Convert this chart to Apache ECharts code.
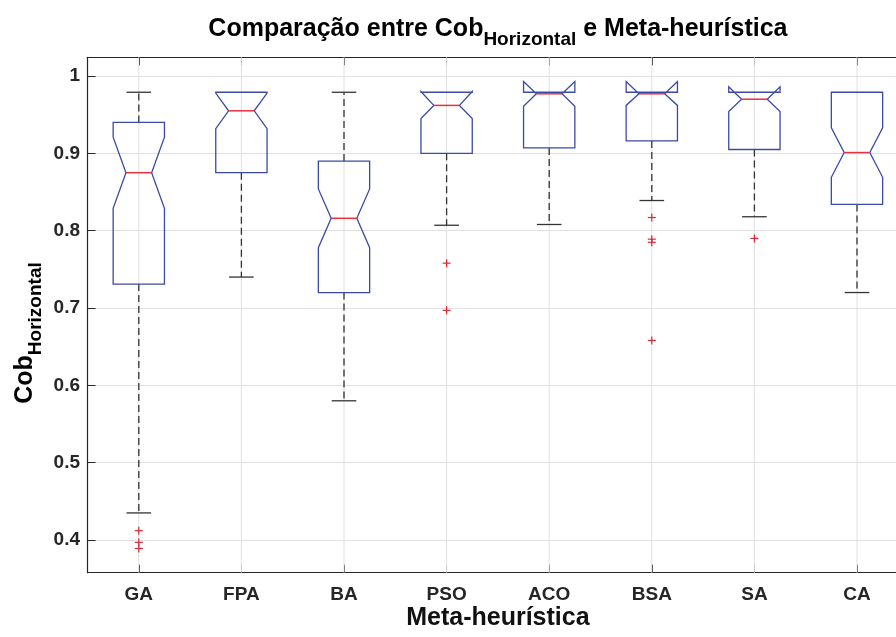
<!DOCTYPE html>
<html><head><meta charset="utf-8">
<script src="https://cdn.jsdelivr.net/npm/echarts@6/dist/echarts.min.js"></script>
<style>html,body{margin:0;padding:0;background:#fff;overflow:hidden;width:896px;height:637px}#c{width:912px;height:637px}</style>
</head><body><div id="c"></div>
<script>
// ---- data ----
const categories = ['GA', 'FPA', 'BA', 'PSO', 'ACO', 'BSA', 'SA', 'CA'];
const lowerWhisker = [0.435, 0.740, 0.580, 0.807, 0.808, 0.839, 0.818, 0.720];
const q1Values     = [0.731, 0.875, 0.720, 0.900, 0.907, 0.916, 0.905, 0.834];
const medianValues = [0.875, 0.955, 0.816, 0.962, 0.977, 0.977, 0.970, 0.901];
const q3Values     = [0.940, 0.979, 0.890, 0.979, 0.979, 0.979, 0.979, 0.979];
const upperWhisker = [0.979, 0.979, 0.979, 0.979, 0.979, 0.979, 0.979, 0.979];
const notchLow     = [0.829, 0.932, 0.778, 0.945, 0.961, 0.962, 0.954, 0.869];
const notchHigh    = [0.921, 0.978, 0.854, 0.980, 0.993, 0.993, 0.986, 0.933];
const outlierCategory = ['GA', 'GA', 'GA', 'PSO', 'PSO', 'BSA', 'BSA', 'BSA', 'BSA', 'SA'];
const outlierValue    = [0.412, 0.397, 0.389, 0.758, 0.697, 0.817, 0.789, 0.785, 0.658, 0.790];
const yMin = 0.3577, yMax = 1.0242;
const titleMain1 = 'Comparação entre Cob';
const titleSub = 'Horizontal';
const titleMain2 = ' e Meta-heurística';
const yNameMain = 'Cob';
const yNameSub = 'Horizontal';
const xName = 'Meta-heurística';

// ---- chart ----
const FONT = '"Liberation Sans", Arial, Helvetica, sans-serif';
const BOX = '#3b4aa6', MED = '#e8303c', WH = '#333333', OUT = '#e02535';
const GRID_C = '#e0e0e0', AX = '#262626';

const boxData = categories.map((c, i) => [i, lowerWhisker[i], q1Values[i], medianValues[i], q3Values[i], upperWhisker[i], notchLow[i], notchHigh[i]]);
const outData = outlierCategory.map((c, i) => [categories.indexOf(c), outlierValue[i]]);

const chart = echarts.init(document.getElementById('c'), null, {renderer: 'canvas'});

const gridLeft = 87.5, gridTop = 57.3, gridW = 820.8, gridH = 515.4;

function renderGrid(params, api) {
  const idx = api.value(0);
  const cs = params.coordSys;
  const x = api.coord([idx, yMin])[0];
  return {type: 'line', shape: {x1: x, y1: cs.y, x2: x, y2: cs.y + cs.height},
    style: {stroke: GRID_C, lineWidth: 1}, silent: true};
}

function renderBox(params, api) {
  const idx = api.value(0);
  const band = api.size([1, 0])[0];
  const cx = api.coord([idx, 0.5])[0];
  const y = v => api.coord([idx, v])[1];
  const vq3 = api.value(4), vuw = api.value(5), vq1 = api.value(2), vlw = api.value(1);
  const lw = y(vlw), q1 = y(vq1), md = y(api.value(3)),
        q3 = y(vq3), uw = y(vuw), nl = y(api.value(6)), nh = y(api.value(7));
  const half = band * 0.25, nw = band * 0.125, cap = band * 0.12;
  const dash = {stroke: WH, lineWidth: 1.3, lineDash: [7, 4]};
  const solid = {stroke: WH, lineWidth: 1.3};
  const children = [];
  if (vuw > vq3) {
    children.push({type: 'line', shape: {x1: cx, y1: q3, x2: cx, y2: uw}, style: dash});
    children.push({type: 'line', shape: {x1: cx - cap, y1: uw, x2: cx + cap, y2: uw}, style: solid});
  }
  if (vlw < vq1) {
    children.push({type: 'line', shape: {x1: cx, y1: q1, x2: cx, y2: lw}, style: dash});
    children.push({type: 'line', shape: {x1: cx - cap, y1: lw, x2: cx + cap, y2: lw}, style: solid});
  }
  children.push({type: 'polygon', shape: {points: [
      [cx - half, q1], [cx - half, nl], [cx - nw, md], [cx - half, nh], [cx - half, q3],
      [cx + half, q3], [cx + half, nh], [cx + nw, md], [cx + half, nl], [cx + half, q1]]},
      style: {fill: 'none', stroke: BOX, lineWidth: 1.3, lineJoin: 'miter'}});
  children.push({type: 'line', shape: {x1: cx - nw, y1: md, x2: cx + nw, y2: md}, style: {stroke: MED, lineWidth: 1.5}});
  return {type: 'group', children: children};
}

function renderOut(params, api) {
  const p = api.coord([api.value(0), api.value(1)]);
  const s = 4;
  const st = {stroke: OUT, lineWidth: 1.2};
  return {type: 'group', children: [
    {type: 'line', shape: {x1: p[0] - s, y1: p[1], x2: p[0] + s, y2: p[1]}, style: st},
    {type: 'line', shape: {x1: p[0], y1: p[1] - s, x2: p[0], y2: p[1] + s}, style: st}
  ]};
}

const labelStyle = {fontFamily: FONT, fontWeight: 'bold', fontSize: 19, color: AX};
const richMain = {fontFamily: FONT, fontWeight: 'bold', fontSize: 25, lineHeight: 32, verticalAlign: 'top', fill: '#000'};
const richSub = {fontFamily: FONT, fontWeight: 'bold', fontSize: 19, lineHeight: 16, verticalAlign: 'bottom', fill: '#000'};

chart.setOption({
  animation: false,
  backgroundColor: '#fff',
  grid: {left: gridLeft, top: gridTop, width: gridW, height: gridH, containLabel: false},
  xAxis: [{
    type: 'category', data: categories, position: 'bottom', boundaryGap: true,
    axisLine: {show: true, lineStyle: {color: AX, width: 1.2}},
    axisTick: {show: true, inside: true, alignWithLabel: true, length: 8, lineStyle: {color: AX, width: 1}},
    axisLabel: Object.assign({margin: 13}, labelStyle),
    splitLine: {show: false}
  }, {
    type: 'category', data: categories, position: 'top', boundaryGap: true,
    axisLine: {show: true, onZero: false, lineStyle: {color: AX, width: 1.2}},
    axisTick: {show: true, inside: true, alignWithLabel: true, length: 8, lineStyle: {color: AX, width: 1}},
    axisLabel: {show: false}, splitLine: {show: false}
  }],
  yAxis: {
    type: 'value', min: yMin, max: yMax,
    axisLine: {show: true, lineStyle: {color: AX, width: 1.2}},
    axisTick: {show: true, inside: true, length: 8, lineStyle: {color: AX, width: 1}},
    axisLabel: Object.assign({margin: 7.5, showMinLabel: false, showMaxLabel: false,
      formatter: v => (Math.abs(v * 10 - Math.round(v * 10)) < 1e-6 ? String(+(+v).toFixed(1)) : '')}, labelStyle),
    splitLine: {show: true, lineStyle: {color: GRID_C, width: 1}}
  },
  series: [
    {type: 'custom', name: 'grid', xAxisIndex: 0, renderItem: renderGrid, data: boxData, z: 1, silent: true},
    {type: 'custom', name: 'box', xAxisIndex: 0, renderItem: renderBox, data: boxData,
      encode: {x: 0, y: [1, 2, 3, 4, 5]}, z: 3},
    {type: 'custom', name: 'out', xAxisIndex: 0, renderItem: renderOut, data: outData, encode: {x: 0, y: 1}, z: 4}
  ],
  graphic: [
    {type: 'text', x: gridLeft + gridW / 2, y: 33, z: 10,
      style: {text: '{m|' + titleMain1 + '}{s|' + titleSub + '}{m|' + titleMain2 + '}',
        align: 'center', verticalAlign: 'middle', fill: '#000', rich: {m: richMain, s: richSub}}},
    {type: 'text', x: 29, y: 333, rotation: Math.PI / 2, z: 10,
      style: {text: '{m|' + yNameMain + '}{s|' + yNameSub + '}',
        align: 'center', verticalAlign: 'middle', fill: '#000', rich: {m: richMain, s: richSub}}},
    {type: 'text', x: gridLeft + gridW / 2, y: 618, z: 10,
      style: {text: xName, align: 'center', verticalAlign: 'middle', fill: '#111',
        font: 'bold 25px ' + FONT}}
  ]
});
</script></body></html>
